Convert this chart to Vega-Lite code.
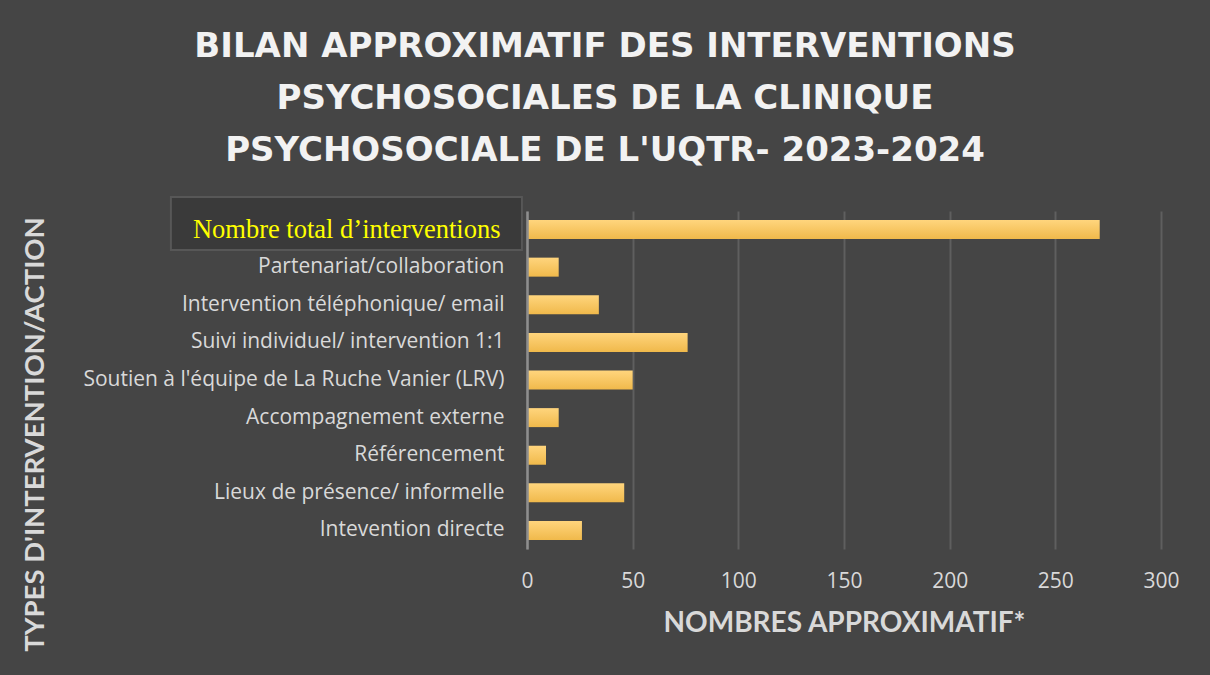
{
  "$schema": "https://vega.github.io/schema/vega-lite/v6.json",
  "autosize": {"type": "none"},
  "width": 634,
  "height": 338,
  "padding": {"left": 527, "top": 211, "right": 49, "bottom": 126},
  "background": "#454545",
  "title": {
    "text": ["BILAN APPROXIMATIF DES INTERVENTIONS", "PSYCHOSOCIALES DE LA CLINIQUE", "PSYCHOSOCIALE DE L'UQTR- 2023-2024"],
    "font": "DejaVu Sans",
    "fontWeight": "bold",
    "fontSize": 34,
    "color": "#f2f2f2",
    "lineHeight": 52,
    "anchor": "middle",
    "frame": "group",
    "dx": -239,
    "offset": 28
  },
  "data": {
    "values": [
      {"type": "Nombre total d’interventions", "n": 271},
      {"type": "Partenariat/collaboration", "n": 15},
      {"type": "Intervention téléphonique/ email", "n": 34},
      {"type": "Suivi individuel/ intervention 1:1", "n": 76},
      {"type": "Soutien à l'équipe de La Ruche Vanier (LRV)", "n": 50},
      {"type": "Accompagnement externe", "n": 15},
      {"type": "Référencement ", "n": 9},
      {"type": "Lieux de présence/ informelle", "n": 46},
      {"type": "Intevention directe", "n": 26}
    ]
  },
  "encoding": {
    "y": {
      "field": "type",
      "type": "nominal",
      "sort": null,
      "scale": {"paddingInner": 0.495, "paddingOuter": 0.24},
      "axis": {
        "title": "TYPES D'INTERVENTION/ACTION",
        "titleFont": "Lato",
        "titleFontWeight": "bold",
        "titleFontSize": 27.5,
        "titleColor": "#d9d9d9",
        "titleAngle": 270,
        "titleAlign": "center",
        "titleBaseline": "middle",
        "titleX": -492,
        "titleY": 223,
        "ticks": false,
        "domainColor": "#8e8e8e",
        "domainWidth": 2.5,
        "labelFont": {"condition": {"test": "indexof(datum.value, 'Nombre') === 0", "value": "Liberation Serif"}, "value": "Open Sans"},
        "labelFontSize": {"condition": {"test": "indexof(datum.value, 'Nombre') === 0", "value": 26.5}, "value": 21},
        "labelColor": {"condition": {"test": "indexof(datum.value, 'Nombre') === 0", "value": "#ffff00"}, "value": "#d9d9d9"},
        "labelPadding": {"condition": {"test": "indexof(datum.value, 'Nombre') === 0", "value": 27}, "value": 23},
        "labelLimit": 600,
        "zindex": 1
      }
    }
  },
  "layer": [
    {
      "transform": [{"filter": "indexof(datum.type, 'Nombre') === 0"}],
      "mark": {"type": "bar", "height": 53, "yOffset": -6, "fill": "#3a3a3a", "stroke": "#575757", "strokeWidth": 2},
      "encoding": {
        "x": {"datum": -168.5, "type": "quantitative"},
        "x2": {"datum": -2.4}
      }
    },
    {
      "mark": {
        "type": "bar",
        "fill": {
          "gradient": "linear",
          "x1": 0, "y1": 0, "x2": 0, "y2": 1,
          "stops": [
            {"offset": 0, "color": "#ffd57d"},
            {"offset": 1, "color": "#f0b94b"}
          ]
        }
      },
      "encoding": {
        "x": {
          "field": "n",
          "type": "quantitative",
          "scale": {"domain": [0, 300], "nice": false},
          "axis": {
            "title": "NOMBRES APPROXIMATIF*",
            "titleFont": "Lato",
            "titleFontWeight": "bold",
            "titleFontSize": 28,
            "titleColor": "#d9d9d9",
            "titlePadding": 18,
            "values": [0, 50, 100, 150, 200, 250, 300],
            "domain": false,
            "ticks": false,
            "grid": true,
            "gridColor": "#5f5f5f",
            "gridWidth": 2,
            "labelFont": "Open Sans",
            "labelFontSize": 21,
            "labelColor": "#d9d9d9",
            "labelPadding": 21,
            "labelFlush": false,
            "zindex": 0
          }
        }
      }
    }
  ],
  "config": {
    "view": {"stroke": null}
  }
}
